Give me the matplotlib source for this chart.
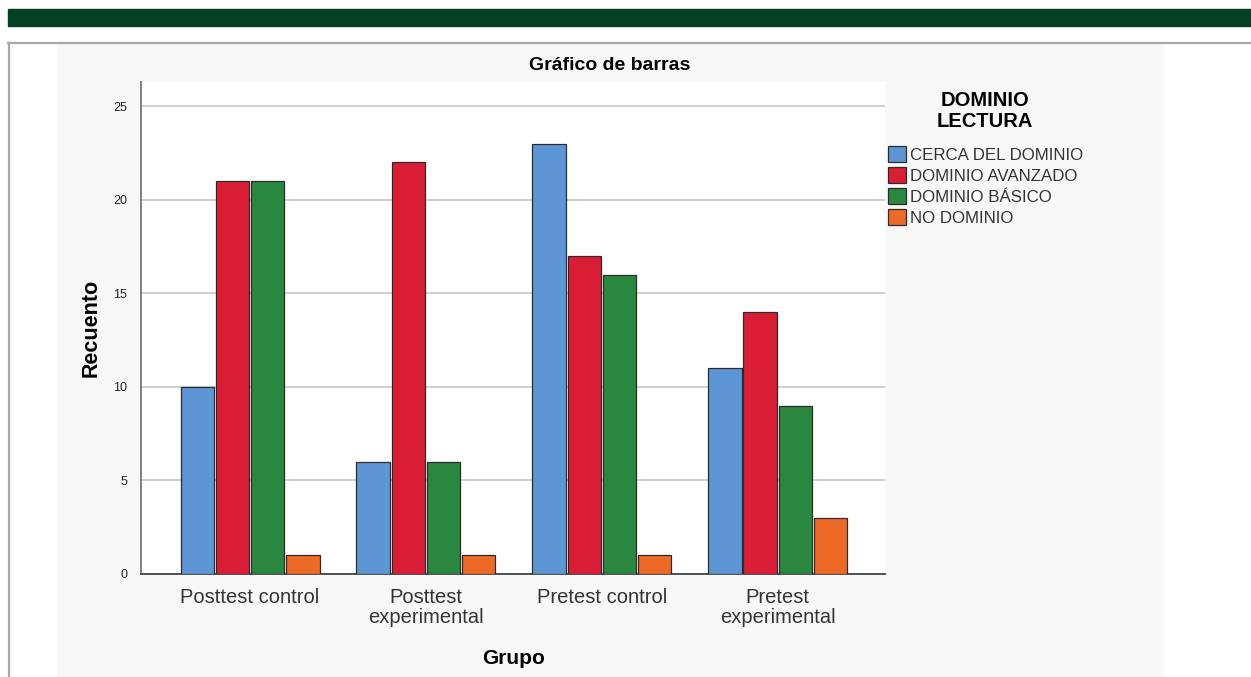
import matplotlib
matplotlib.use("Agg")
import matplotlib.pyplot as plt
from matplotlib.patches import Rectangle, Patch
from matplotlib.lines import Line2D
import numpy as np

plt.rcParams['font.family'] = ['Liberation Sans', 'DejaVu Sans']

groups = ["Posttest control", "Posttest\nexperimental", "Pretest control", "Pretest\nexperimental"]
levels = ["CERCA DEL DOMINIO", "DOMINIO AVANZADO", "DOMINIO BÁSICO", "NO DOMINIO"]
cerca = [10, 6, 23, 11]
avanzado = [21, 22, 17, 14]
basico = [21, 6, 16, 9]
no_dominio = [1, 1, 1, 3]
series = [cerca, avanzado, basico, no_dominio]
colors = ["#5e95d4", "#d91e36", "#2a8740", "#ee6a27"]
yticks = [0, 5, 10, 15, 20, 25]

W, H = 1251, 677
fig = plt.figure(figsize=(W / 100, H / 100), dpi=100)
fig.patch.set_facecolor("white")

def fx(px):
    return px / W

def fy(py):
    return 1 - py / H

# header band and framing
fig.patches.append(Rectangle((fx(8), fy(26)), fx(W - 8), (26 - 9) / H,
                             transform=fig.transFigure, color="#033f20", zorder=-5))
fig.patches.append(Rectangle((fx(57), 0), fx(1163 - 57), fy(44),
                             transform=fig.transFigure, color="#f8f8f8", zorder=-5))
fig.lines.append(Line2D([fx(8), 1], [fy(42.5), fy(42.5)], transform=fig.transFigure,
                        color="#a8a8a8", lw=1.6, zorder=-4))
fig.lines.append(Line2D([fx(8.5), fx(8.5)], [0, fy(42.5)], transform=fig.transFigure,
                        color="#a8a8a8", lw=1.6, zorder=-4))

ax = fig.add_axes([fx(141), fy(574), fx(885 - 141), (574 - 82) / H])
ax.set_zorder(2)
ax.set_facecolor("white")
x = np.arange(len(groups))
width = 0.19
step = 0.2
for i, (vals, col, lab) in enumerate(zip(series, colors, levels)):
    ax.bar(x + (i - 1.5) * step, vals, width, color=col, edgecolor="#2b2b2b",
           linewidth=0.9, label=lab, zorder=3)

ax.set_xlim(-0.62, 3.61)
ax.set_ylim(0, 26.3)
ax.set_yticks(yticks)
ax.set_yticklabels([str(t) for t in yticks], fontsize=9, color="#222222")
ax.set_xticks(x)
ax.set_xticklabels(groups, fontsize=14.5, color="#333333", linespacing=1.05)
ax.tick_params(axis="x", length=0, pad=10)
ax.tick_params(axis="y", length=0, pad=10)
ax.grid(axis="y", color="#c8c8c8", lw=1.2, zorder=0)
for s in ["top", "right"]:
    ax.spines[s].set_visible(False)
ax.spines["left"].set_color("#777777")
ax.spines["bottom"].set_color("#444444")
ax.spines["left"].set_linewidth(1.3)
ax.spines["bottom"].set_linewidth(1.3)

fig.text(fx(91), fy(328), "Recuento", fontsize=15.5, fontweight="bold",
         rotation=90, ha="center", va="center")
fig.text(fx(514), fy(658), "Grupo", fontsize=15, fontweight="bold", ha="center", va="center")
fig.text(fx(610), fy(65), "Gráfico de barras", fontsize=14, fontweight="bold",
         ha="center", va="center")

# legend with its centred two-line heading
fig.text(fx(985), fy(111), "DOMINIO\nLECTURA", fontsize=14.5, fontweight="bold",
         ha="center", va="center", linespacing=1.1)
handles = [Patch(facecolor=c, edgecolor="#2b2b2b", linewidth=0.9) for c in colors]
leg = fig.legend(handles, levels, loc="upper left", bbox_to_anchor=(fx(881), fy(139)),
                 frameon=False, fontsize=12.2,
                 handlelength=1.1, handleheight=1.1, handletextpad=0.2,
                 labelspacing=0.25, borderaxespad=0)
for t in leg.get_texts():
    t.set_color("#333333")

fig.savefig("out.png", dpi=100)
